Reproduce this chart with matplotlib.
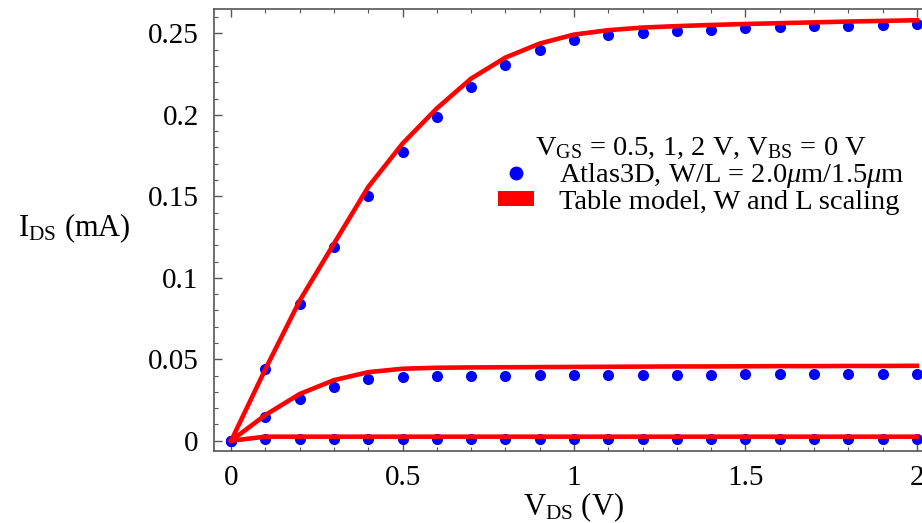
import matplotlib
matplotlib.use("Agg")
import matplotlib.pyplot as plt
from matplotlib.lines import Line2D
from matplotlib.patches import Patch
from matplotlib.ticker import MultipleLocator, FuncFormatter

plt.rcParams['font.family'] = ['Liberation Serif', 'DejaVu Serif']
plt.rcParams['mathtext.fontset'] = 'custom'
plt.rcParams['mathtext.rm'] = 'Liberation Serif'
plt.rcParams['mathtext.it'] = 'Liberation Serif:italic'

vds = [0.0, 0.1, 0.2, 0.3, 0.4, 0.5, 0.6, 0.7, 0.8, 0.9, 1.0,
       1.1, 1.2, 1.3, 1.4, 1.5, 1.6, 1.7, 1.8, 1.9, 2.0]

# Atlas3D simulation (dots), mA
atlas_vgs2 = [0.0, 0.044, 0.0839, 0.119, 0.150, 0.177, 0.199, 0.217, 0.2305, 0.240, 0.2457,
              0.2489, 0.2505, 0.2518, 0.2524, 0.2532, 0.2538, 0.2544, 0.2547, 0.2550, 0.2557]
atlas_vgs1 = [0.0, 0.0147, 0.0256, 0.0331, 0.0377, 0.0391, 0.0397, 0.0399, 0.0400, 0.0401, 0.0402,
              0.0403, 0.0404, 0.0405, 0.0406, 0.0407, 0.0408, 0.0409, 0.0409, 0.0410, 0.0411]
atlas_vgs05 = [0.0] + [0.0011] * 20

# Table model (lines), mA
model_vgs2 = [0.0, 0.044, 0.086, 0.121, 0.1558, 0.1824, 0.204, 0.2223, 0.2352, 0.2438, 0.2493,
              0.2520, 0.2536, 0.2545, 0.2552, 0.2558, 0.2563, 0.2568, 0.2573, 0.2577, 0.2581]
model_vgs1 = [0.0, 0.0158, 0.0287, 0.0372, 0.0421, 0.0442, 0.0448, 0.0450, 0.0451, 0.0452, 0.0453,
              0.0454, 0.0455, 0.0456, 0.0456, 0.0457, 0.0458, 0.0458, 0.0459, 0.0459, 0.0460]
model_vgs05 = [0.0] + [0.0025] * 20

x_ticks = [0, 0.5, 1, 1.5, 2]
y_ticks = [0, 0.05, 0.1, 0.15, 0.2, 0.25]

FS = 21
FS_LAB = 22
FS_LEG = 20.5
fig = plt.figure(figsize=(9.22, 5.23), dpi=100)
ax = fig.add_axes([214/922, 1-451/523, (922-214)/922, (451-9)/523])

for a in [atlas_vgs2, atlas_vgs1, atlas_vgs05]:
    ax.plot(vds, a, 'o', color='#0000ff', markersize=8, markeredgewidth=0, zorder=2)
for m in [model_vgs2, model_vgs1, model_vgs05]:
    ax.plot(vds, m, '-', color='#ff0000', linewidth=3.3, solid_joinstyle='miter', zorder=3)

ax.set_xlim(-0.05, 2.015)
ax.set_ylim(-0.0063, 0.265)
ax.set_xticks(x_ticks)
ax.set_yticks(y_ticks)
ax.xaxis.set_minor_locator(MultipleLocator(0.1))
ax.yaxis.set_minor_locator(MultipleLocator(0.01))
fmt = FuncFormatter(lambda v, p: '%g' % round(v, 4))
ax.xaxis.set_major_formatter(fmt)
ax.yaxis.set_major_formatter(fmt)
ax.tick_params(which='both', direction='in', top=True, right=False, labelsize=FS, color='#555555')
ax.tick_params(which='major', length=6, width=1)
ax.tick_params(which='minor', length=3, width=0.8)
ax.tick_params(axis='x', pad=10)
ax.tick_params(axis='y', pad=11)
ax.spines['right'].set_visible(False)
for s in ['left', 'top', 'bottom']:
    ax.spines[s].set_color('#555555')
    ax.spines[s].set_linewidth(1.2)

ax.set_xlabel(r'$\mathrm{V_{DS}}$ (V)', fontsize=FS_LAB)
ax.xaxis.set_label_coords(0.507, -0.127)
ax.xaxis.label.set_va('center')
ax.set_ylabel(r'$\mathrm{I_{DS}}$ (mA)', fontsize=FS_LAB, rotation=0, ha='left', va='center')
ax.yaxis.set_label_coords(-0.277, 0.505)

handles = [Line2D([], [], linestyle='none', marker='o', color='#0000ff', markersize=10, markeredgewidth=0),
           Patch(facecolor='#ff0000', edgecolor='none')]
labels = [r'Atlas3D, W/L = 2.0$\mathit{\mu}$m/1.5$\mathit{\mu}$m', 'Table model, W and L scaling']
leg = ax.legend(handles, labels, loc='center', bbox_to_anchor=(701/922, 1-175/523),
                bbox_transform=fig.transFigure, frameon=False, fontsize=FS_LEG,
                title=r'$\mathrm{V_{GS}}$ = 0.5, 1, 2 V, $\mathrm{V_{BS}}$ = 0 V',
                title_fontsize=FS_LEG, handlelength=1.25, handleheight=0.45, handletextpad=0.88,
                labelspacing=0.0, borderpad=0.0)

fig.savefig('out.png', dpi=100)
